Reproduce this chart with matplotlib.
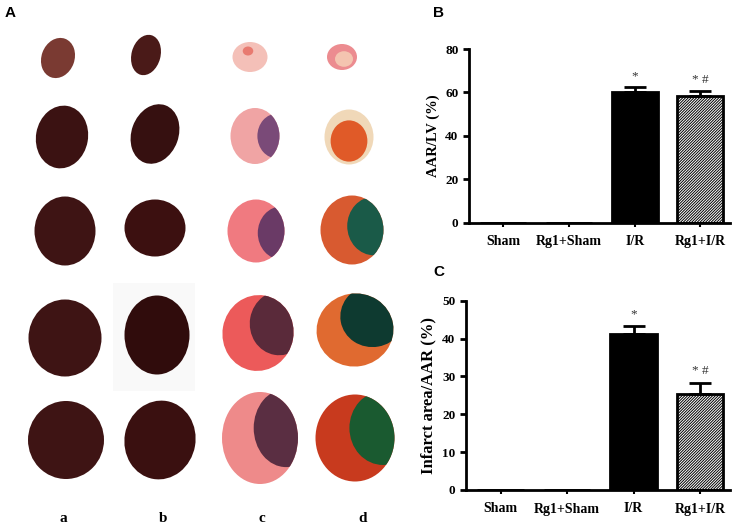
import numpy as np
import matplotlib
matplotlib.use("Agg")
import matplotlib.pyplot as plt
from matplotlib.patches import Ellipse, Rectangle

plt.rcParams['hatch.linewidth'] = 0.7

groups = ["Sham", "Rg1+Sham", "I/R", "Rg1+I/R"]
aar_lv = [0, 0, 60.4, 58.4]
aar_lv_err = [0, 0, 2.3, 2.4]
infarct_aar = [0, 0, 41.2, 25.3]
infarct_aar_err = [0, 0, 2.2, 3.0]
marks = ["", "", "*", "* #"]

slice_cols = ["a", "b", "c", "d"]

# heart slices for panel A: (x, y, w, h, angle, base colour, overlay colour, overlay dx, dy, scale)
dark = "#3b1212"
slices = [
    (58, 58, 33, 41, 20, "#7a3a32", None, 0, 0, 0),
    (146, 55, 29, 41, 15, "#4a1a18", None, 0, 0, 0),
    (250, 57, 35, 30, 0, "#f4c0b8", "#e87a70", -2, -6, 0.3),
    (342, 57, 30, 26, 0, "#ec8c90", "#f4c4b0", 2, 2, 0.6),
    (62, 137, 52, 63, 10, dark, None, 0, 0, 0),
    (155, 134, 47, 61, 20, "#361010", None, 0, 0, 0),
    (255, 136, 49, 56, 0, "#f0a4a4", "#7a4a78", 22, 0, 0.8),
    (349, 137, 49, 55, 0, "#f0d8b8", "#e05a28", 0, 4, 0.75),
    (65, 231, 61, 69, 0, "#3e1414", None, 0, 0, 0),
    (155, 228, 61, 57, 0, "#3c1010", None, 0, 0, 0),
    (256, 231, 57, 63, 0, "#f07a80", "#6a3a66", 26, 2, 0.85),
    (352, 230, 63, 69, 0, "#d85a30", "#1a5a48", 22, -4, 0.85),
    (65, 338, 73, 77, 0, "#3e1414", None, 0, 0, 0),
    (157, 335, 65, 79, 0, "#300c0c", None, 0, 0, 0),
    (258, 333, 71, 76, 10, "#ec5a5a", "#5a2a3a", 22, -10, 0.85),
    (355, 330, 77, 73, -10, "#e06a30", "#0e3a30", 18, -14, 0.85),
    (66, 440, 76, 78, 0, "#3e1414", None, 0, 0, 0),
    (160, 440, 71, 79, 10, "#3a1010", None, 0, 0, 0),
    (260, 438, 76, 92, 0, "#ee8a8a", "#5a2e42", 26, -10, 0.85),
    (355, 438, 79, 87, 0, "#c83a1e", "#1a5a30", 28, -10, 0.85),
]

fig = plt.figure(figsize=(7.37, 5.31), dpi=100)

# panel A
axA = fig.add_axes([0, 0, 420 / 737, 1])
axA.set_xlim(0, 420)
axA.set_ylim(531, 0)
axA.axis("off")
axA.add_patch(Rectangle((113, 283), 82, 108, color="#f9f9f9", lw=0))
for x, y, w, h, ang, c0, c1, dx, dy, s in slices:
    base = Ellipse((x, y), w, h, angle=ang, facecolor=c0, edgecolor="none")
    axA.add_patch(base)
    if c1 is not None:
        over = Ellipse((x + dx, y + dy), w * s, h * s, angle=ang, facecolor=c1, edgecolor="none")
        axA.add_patch(over)
        over.set_clip_path(base)
for i, lab in enumerate(slice_cols):
    axA.text([63, 163, 262, 363][i], 518, lab, ha="center", va="center",
             fontsize=11, fontweight="bold", family="Liberation Serif")

fig.text(5 / 737, 1 - 13 / 531, "A", fontsize=11, fontweight="bold", family="Liberation Sans", va="center")
fig.text(433 / 737, 1 - 13 / 531, "B", fontsize=11, fontweight="bold", family="Liberation Sans", va="center")
fig.text(433 / 737, 1 - 272 / 531, "C", fontsize=11, fontweight="bold", family="Liberation Sans", va="center")


def bar_panel(ax, vals, errs, ymax, step, ylabel, lsize, tsize):
    x = np.arange(len(groups))
    ax.bar(x[:3], vals[:3], width=0.7, color="black", edgecolor="black", linewidth=2)
    ax.bar(x[3], vals[3], width=0.7, color="white", edgecolor="black", linewidth=2, hatch="////////////")
    ax.errorbar(x[2:], vals[2:], yerr=[np.zeros(2), errs[2:]], fmt="none", ecolor="black",
                elinewidth=2, capsize=8, capthick=2)
    for xi, v, e, m in zip(x, vals, errs, marks):
        if m:
            ax.text(xi, v + e + ymax * 0.06, m, ha="center", va="center", fontsize=9.5,
                    family="Liberation Serif", color="#333333")
    ax.set_xlim(-0.52, 3.45)
    ax.set_ylim(0, ymax)
    ax.set_yticks(np.arange(0, ymax + 1, step))
    ax.set_xticks(x)
    ax.set_xticklabels(groups)
    ax.spines["top"].set_visible(False)
    ax.spines["right"].set_visible(False)
    ax.spines["left"].set_linewidth(2)
    ax.spines["bottom"].set_linewidth(2)
    ax.tick_params(axis="y", width=2, length=4, labelsize=tsize)
    ax.tick_params(axis="x", width=1.5, length=3, labelsize=tsize + 0.5, pad=6)
    for t in ax.get_xticklabels() + ax.get_yticklabels():
        t.set_fontweight("bold")
        t.set_family("Liberation Serif")
    ax.set_ylabel(ylabel, fontsize=lsize, fontweight="bold", family="Liberation Serif")


axB = fig.add_axes([469 / 737, 1 - 223 / 531, 261 / 737, 174 / 531])
bar_panel(axB, aar_lv, aar_lv_err, 80, 20, "AAR/LV (%)", 10.5, 9.5)

axC = fig.add_axes([466 / 737, 1 - 490 / 531, 264 / 737, 189.3 / 531])
bar_panel(axC, infarct_aar, infarct_aar_err, 50, 10, "Infarct area/AAR (%)", 12, 9.5)

fig.savefig("out.png", dpi=100)
